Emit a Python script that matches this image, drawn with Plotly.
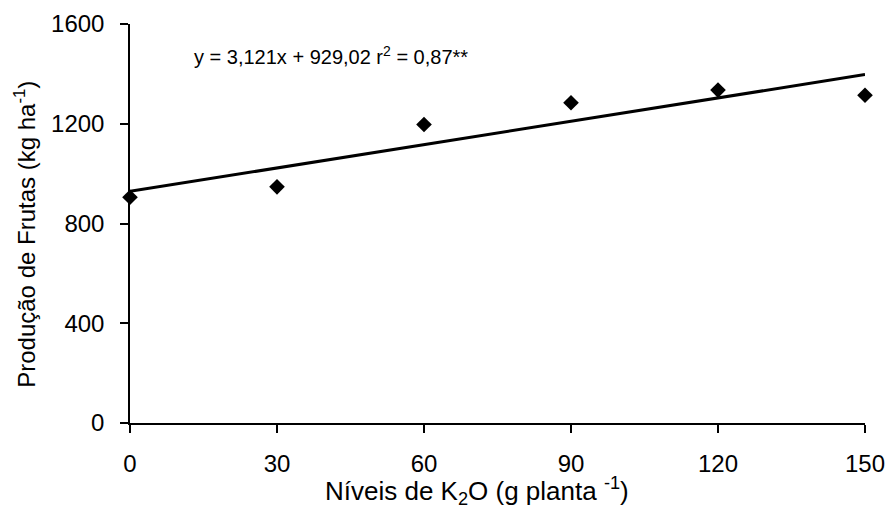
import plotly.graph_objects as go

# Data
niveis_k2o = [0, 30, 60, 90, 120, 150]
producao = [905, 947, 1197, 1284, 1335, 1314]
coef_a = 3.121
coef_b = 929.02
x_ticks = [0, 30, 60, 90, 120, 150]
y_ticks = [0, 400, 800, 1200, 1600]

fit_x = [min(niveis_k2o), max(niveis_k2o)]
fit_y = [coef_a * v + coef_b for v in fit_x]

FONT = "Liberation Sans"

fig = go.Figure()
fig.add_trace(go.Scatter(
    x=fit_x, y=fit_y, mode="lines",
    line=dict(color="black", width=3),
    showlegend=False, hoverinfo="skip", cliponaxis=False))
fig.add_trace(go.Scatter(
    x=niveis_k2o, y=producao, mode="markers",
    marker=dict(symbol="diamond", size=12, color="black"),
    showlegend=False, cliponaxis=False))

fig.add_annotation(
    x=12.6, y=1474, xref="x", yref="y", xanchor="left", yanchor="middle",
    text="y = 3,121x + 929,02 r<sup>2</sup> = 0,87**",
    showarrow=False, font=dict(family=FONT, size=20, color="black"))

# axis titles as annotations (reference titles are not centred on the plot)
fig.add_annotation(
    x=0.472, y=-0.17, xref="paper", yref="paper", xanchor="center", yanchor="middle",
    text="Níveis de K<sub>2</sub>O (g planta <sup>-1</sup>)",
    showarrow=False, font=dict(family=FONT, size=26, color="black"))
fig.add_annotation(
    x=-0.143, y=0.474, xref="paper", yref="paper", xanchor="center", yanchor="middle",
    text="Produção de Frutas (kg ha<sup>-1</sup>)", textangle=-90,
    showarrow=False, font=dict(family=FONT, size=24, color="black"))

fig.update_layout(
    width=892, height=511,
    margin=dict(l=130, r=27, t=24, b=88, autoexpand=False),
    paper_bgcolor="white", plot_bgcolor="white",
    font=dict(family=FONT, size=24, color="black"),
    xaxis=dict(
        range=[0, 150], tickvals=x_ticks, ticktext=[str(v) for v in x_ticks],
        showgrid=False, zeroline=False, showline=True, linecolor="black",
        linewidth=1.5, ticks="outside", ticklen=8, tickwidth=1.5, tickcolor="black",
        ticklabelstandoff=10, tickfont=dict(family=FONT, size=24), automargin=False),
    yaxis=dict(
        range=[0, 1600], tickvals=y_ticks, ticktext=[str(v) for v in y_ticks],
        showgrid=False, zeroline=False, showline=True, linecolor="black",
        linewidth=1.5, ticks="outside", ticklen=8, tickwidth=1.5, tickcolor="black",
        ticklabelstandoff=11, tickfont=dict(family=FONT, size=24), automargin=False),
)

fig.write_html("out.html")
